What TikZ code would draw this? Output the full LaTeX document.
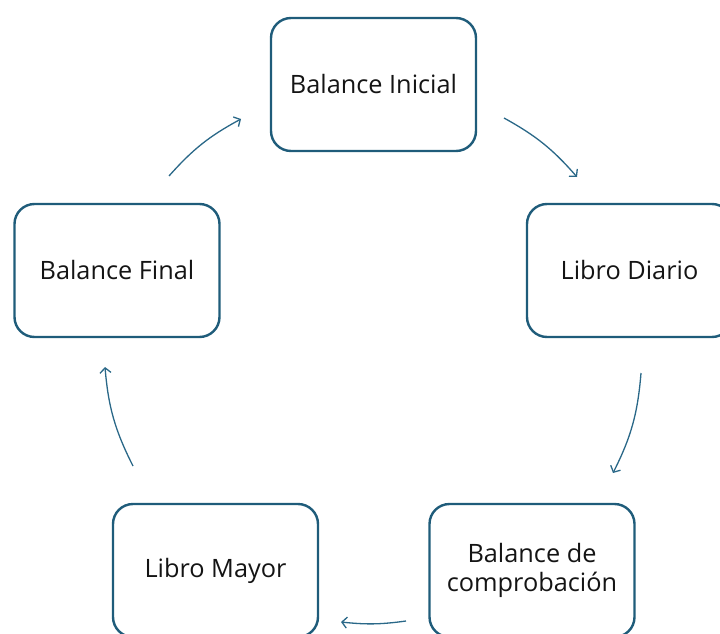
\documentclass[tikz,border=0pt]{standalone}
\usepackage{fontspec}
\setmainfont{Open Sans}
\usetikzlibrary{arrows.meta}
\definecolor{boxline}{HTML}{1F5C7A}
\definecolor{arrowline}{HTML}{2A6888}
\definecolor{txt}{HTML}{141414}
\begin{document}
\begin{tikzpicture}[x=1pt,y=-1pt,
  stepbox/.style={draw=boxline, line width=2.4pt, rounded corners=20pt,
    minimum width=205pt, minimum height=133pt, align=center, text=txt,
    font=\fontsize{25.3}{29}\selectfont, inner sep=0pt},
  flow/.style={draw=arrowline, line width=1.3pt,
    -{Straight Barb[length=5pt,width=11pt,line width=1.3pt]}, bend left=10}]
\useasboundingbox (0,0) rectangle (720,634);
\node[stepbox] (bi) at (373.5,84.5) {Balance Inicial};
\node[stepbox] (ld) at (629.5,270.5) {Libro Diario};
\node[stepbox] (bf) at (117,270.5) {Balance Final};
\node[stepbox] (lm) at (215.5,570.5) {Libro Mayor};
\node[stepbox] (bc) at (532,570.5) {Balance de\\comprobación};
\coordinate (a1s) at (504,118); \coordinate (a1e) at (577,177);
\coordinate (a2s) at (641,373); \coordinate (a2e) at (613,473);
\coordinate (a3s) at (406,621); \coordinate (a3e) at (341,622);
\coordinate (a4s) at (133,466); \coordinate (a4e) at (105,367);
\coordinate (a5s) at (169,176); \coordinate (a5e) at (241,119);
\draw[flow] (a1s) to (a1e);
\draw[flow, bend left=11] (a2s) to (a2e);
\draw[flow, bend left=7] (a3s) to (a3e);
\draw[flow, bend left=11] (a4s) to (a4e);
\draw[flow] (a5s) to (a5e);
\end{tikzpicture}
\end{document}
